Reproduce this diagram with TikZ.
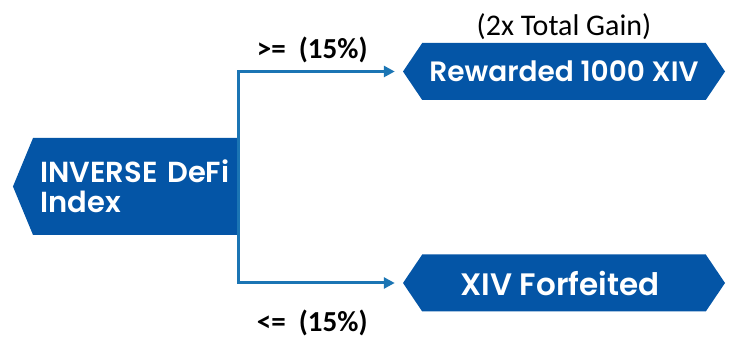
\documentclass[tikz,border=0pt]{standalone}
\usepackage{fontspec}
\usepackage{tikz}
\usetikzlibrary{shapes.symbols, arrows.meta, positioning}

\newfontfamily\boxfont{Poppins}[BoldFont={Poppins SemiBold}]
\newfontfamily\notefont{Carlito}
\definecolor{boxblue}{RGB}{4,85,166}
\definecolor{lineblue}{RGB}{27,117,180}

\tikzset{
	source/.style={shape=signal, signal to=west, signal pointer angle=135, fill=boxblue, text=white,
		font=\boxfont\bfseries\fontsize{29}{30}\selectfont, align=left, text width=190pt,
		minimum height=97pt, minimum width=225pt, inner sep=0pt},
	outcome/.style={shape=signal, signal to=west and east, signal pointer angle=112, fill=boxblue, text=white,
		font=\boxfont\bfseries\fontsize{28}{30}\selectfont, minimum height=57pt, minimum width=322pt, inner sep=0pt},
	flow/.style={draw=lineblue, line width=3pt, -{Triangle[length=11pt,width=11pt]}, shorten >=8pt},
	note/.style={font=\notefont\fontsize{30}{32}\selectfont},
	cond/.style={font=\notefont\bfseries\fontsize{29}{32}\selectfont}
}

\begin{document}
\begin{tikzpicture}[x=1pt,y=1pt]
	\useasboundingbox (0,0) rectangle (734,340);
	\node[source] (index) at (135.5,153.5) {INVERSE DeFi\\Index};
	\node[outcome] (reward) at (564,268.5) {Rewarded 1000 XIV};
	\node[outcome, font=\boxfont\bfseries\fontsize{31}{30}\selectfont] (forfeit) at (564,57) {\hspace*{-8pt}XIV Forfeited};
	\node[note] (gain) [above=0pt of reward] {(2x Total Gain)};
	\path[flow]
		(index.east) |- node[pos=0.725, above=4pt, cond] {>= \ (15\%)} (reward.west);
	\path[flow]
		(index.east) |- node[pos=0.725, below=22pt, cond] {<= \ (15\%)} (forfeit.west);
\end{tikzpicture}
\end{document}
